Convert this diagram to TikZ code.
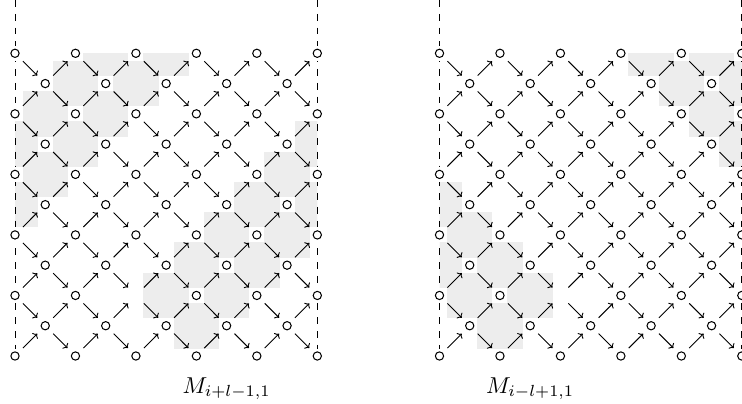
\documentclass[tikz,border=0pt]{standalone}
\usepackage{amsmath,amssymb}
\usepackage{xcolor}
\usetikzlibrary{arrows.meta, positioning}

\definecolor{meshgray}{gray}{0.93}

\tikzset{
  vert/.style={rectangle, fill=white, inner sep=0pt, minimum size=6.5pt,
    path picture={\draw[line width=0.45pt] (path picture bounding box.center) circle (1.8pt);}},
  dotv/.style={rectangle, fill=white, inner sep=0pt, minimum size=6.5pt,
    path picture={\fill (path picture bounding box.center) circle (2.2pt);}},
  mesh/.style={fill=meshgray},
  wall/.style={dashed, line width=0.4pt}
}

\begin{document}
\begin{tikzpicture}[x=0.435pt, y=-0.435pt, >={To[length=1.6pt, width=3.4pt]}]
        \useasboundingbox (0,0) rectangle (742,404);

        % shaded meshes, left lattice
        \begin{scope}
            \clip (15,53.3) rectangle (317.3,356);
            \foreach \c/\r in {3/0,2/1,1/2,0/3,5/0,4/1,3/2,2/3,1/4,0/5,
                               5/8,6/7,7/6,8/5,9/4,10/3,6/9,7/8,8/7,9/6,10/5} {
                \fill[mesh] ({15+30.23*(\c-1)+7.5},{53.3+30.27*(\r-1)+7.5})
                    rectangle ({15+30.23*(\c+1)-7.5},{53.3+30.27*(\r+1)-7.5});
            }
        \end{scope}

        % shaded meshes, right lattice
        \begin{scope}
            \clip (439.5,53.3) rectangle (741.8,356);
            \foreach \c/\r in {0/5,1/6,2/7,3/8,0/7,1/8,2/9,
                               7/0,8/1,9/2,10/3,9/0,10/1} {
                \fill[mesh] ({439.5+30.23*(\c-1)+7.5},{53.3+30.27*(\r-1)+7.5})
                    rectangle ({439.5+30.23*(\c+1)-7.5},{53.3+30.27*(\r+1)-7.5});
            }
        \end{scope}

        \foreach \pre/\xo in {l/15, r/439.5} {
            % dashed side walls
            \coordinate (\pre-wl-top) at (\xo,0);
            \coordinate (\pre-wl-bot) at (\xo,356);
            \coordinate (\pre-wr-top) at ({\xo+302.3},0);
            \coordinate (\pre-wr-bot) at ({\xo+302.3},356);
            \draw[wall] (\pre-wl-top) -- (\pre-wl-bot);
            \draw[wall] (\pre-wr-top) -- (\pre-wr-bot);

            % lattice vertices
            \foreach \c in {0,...,10} {
                \foreach \r in {0,...,10} {
                    \pgfmathtruncatemacro\odd{mod(\c+\r,2)}
                    \pgfmathtruncatemacro\isdot{and(\c==4,\r==8)}
                    \ifnum\odd=0
                        \ifnum\isdot=1
                            \node[dotv] (\pre-\c-\r) at ({\xo+30.23*\c},{53.3+30.27*\r}) {};
                        \else
                            \node[vert] (\pre-\c-\r) at ({\xo+30.23*\c},{53.3+30.27*\r}) {};
                        \fi
                    \fi
                }
            }

            % arrows to the right
            \foreach \c in {0,...,9} {
                \foreach \r in {0,...,10} {
                    \pgfmathtruncatemacro\odd{mod(\c+\r,2)}
                    \pgfmathtruncatemacro\cn{\c+1}
                    \pgfmathtruncatemacro\ru{\r-1}
                    \pgfmathtruncatemacro\rd{\r+1}
                    \ifnum\odd=0
                        \ifnum\r>0 \draw[->] (\pre-\c-\r) -- (\pre-\cn-\ru); \fi
                        \ifnum\r<10 \draw[->] (\pre-\c-\r) -- (\pre-\cn-\rd); \fi
                    \fi
                }
            }
        }

        % captions
        \node[below=19pt of l-7-9, inner sep=0pt] (cap-l) {$M_{i+l-1,1}$};
        \node[below=19pt of r-3-9, inner sep=0pt] (cap-r) {$M_{i-l+1,1}$};
    \end{tikzpicture}
\end{document}
